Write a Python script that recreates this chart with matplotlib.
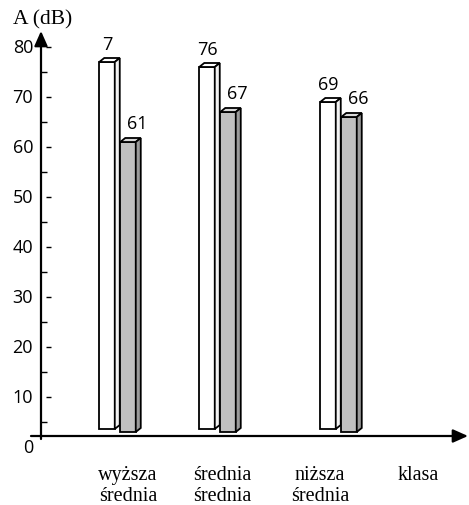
import matplotlib as mpl
mpl.use('Agg')
import matplotlib.pyplot as plt
from matplotlib.patches import Polygon

# dane
klasy = ['wyższa\nśrednia', 'średnia\nśrednia', 'niższa\nśrednia', 'klasa']
poziom_biale = [77, 76, 69]
poziom_szare = [61, 67, 66]
etykiety_biale = ['7', '76', '69']
etykiety_szare = ['61', '67', '66']
skala_y = [0, 10, 20, 30, 40, 50, 60, 70, 80]
skala_y_minor = [5, 15, 25, 35, 45, 55, 65, 75]

SANS = 'Open Sans'
SERIF = 'Liberation Serif'

fig = plt.figure(figsize=(4.69, 5.06), dpi=100)
ax = fig.add_axes([41 / 469, 1 - 437 / 506, 427 / 469, 405 / 506])
ax.set_xlim(-0.79, 3.48)
ax.set_ylim(2.2, 83.2)
ax.axis('off')

# polozenie grup slupkow i etykiet osi x
pozycje = [-0.02, 0.98, 2.19]
pozycje_klas = [0.08, 1.02, 2.0, 2.98]
szer = 0.155
przes_b, przes_s = -0.11, 0.10
dx, dy = 0.05, 0.8          # glebokosc "3D"
dol_b, dol_s = 3.6, 3.0


def slupek(xc, dol, gora, przod, wierzch, bok):
    x0, x1 = xc - szer / 2, xc + szer / 2
    ax.bar(xc, gora - dol, bottom=dol, width=szer, color=przod,
           edgecolor='black', linewidth=1.3, zorder=3)
    ax.add_patch(Polygon([(x0, gora), (x1, gora), (x1 + dx, gora + dy), (x0 + dx, gora + dy)],
                         closed=True, facecolor=wierzch, edgecolor='black', lw=1.3, zorder=3))
    ax.add_patch(Polygon([(x1, dol), (x1 + dx, dol + dy), (x1 + dx, gora + dy), (x1, gora)],
                         closed=True, facecolor=bok, edgecolor='black', lw=1.3, zorder=3))


for i, p in enumerate(pozycje):
    slupek(p + przes_b, dol_b, poziom_biale[i], 'white', 'white', '#f2f2f2')
    slupek(p + przes_s, dol_s, poziom_szare[i], '#c0c0c0', '#d9d9d9', '#9a9a9a')
    ax.annotate(etykiety_biale[i], (p + przes_b, poziom_biale[i]), xytext=(0, 13),
                textcoords='offset points', ha='center', va='center',
                fontsize=13, family=SANS)
    ax.annotate(etykiety_szare[i], (p + przes_s + 0.09, poziom_szare[i]), xytext=(0, 14),
                textcoords='offset points', ha='center', va='center',
                fontsize=13, family=SANS)

# osie ze strzalkami
strz = dict(arrowstyle='-|>,head_length=0.9,head_width=0.4', lw=1.6, color='black',
            shrinkA=0, shrinkB=0)
ax.annotate('', xy=(-0.79, 83.2), xytext=(-0.79, 1.6), arrowprops=strz,
            annotation_clip=False)
ax.annotate('', xy=(3.48, 2.2), xytext=(-0.89, 2.2), arrowprops=strz,
            annotation_clip=False)

# podzialka osi y
ax.hlines(skala_y_minor, -0.79, -0.73, color='black', lw=1.0, clip_on=False)
ax.hlines(skala_y[1:], -0.74, -0.69, color='black', lw=1.0, clip_on=False)
for v in skala_y:
    ax.text(-0.87, v, str(v), ha='right', va='center', fontsize=13, family=SANS,
            clip_on=False)

ax.text(-0.77, 85.6, 'A (dB)', ha='center', va='center', fontsize=15.5, family=SERIF)

# podpisy kategorii, pierwsza linia na tej samej wysokosci
for x, k in zip(pozycje_klas, klasy):
    ax.text(x, -3.6, k, ha='center', va='top', fontsize=14.5, family=SERIF,
            linespacing=1.17)

fig.savefig('out.png', dpi=100)
